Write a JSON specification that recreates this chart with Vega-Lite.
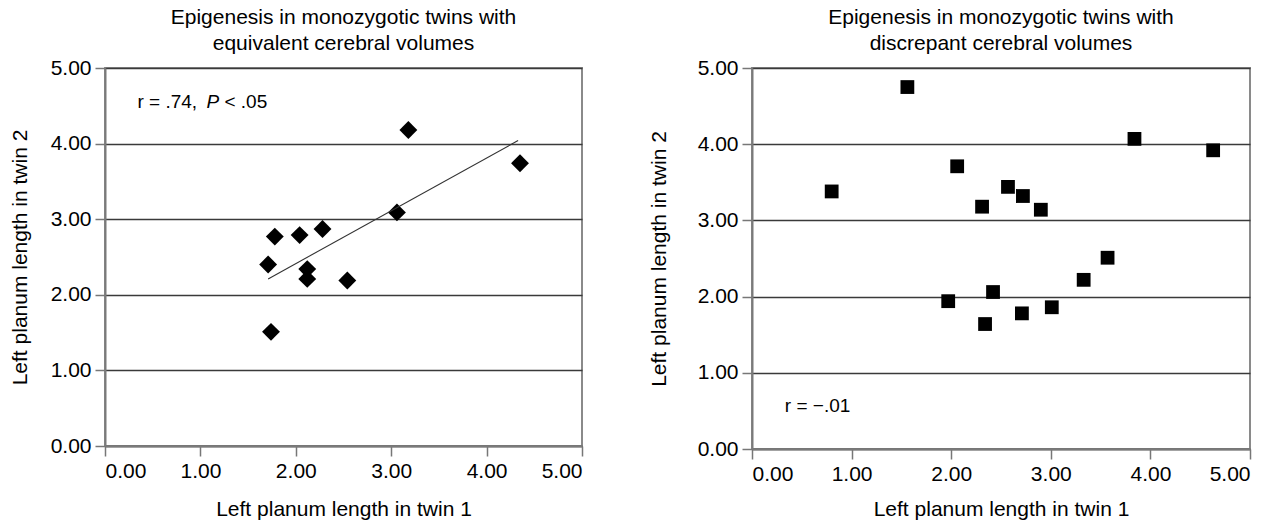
{
  "$schema": "https://vega.github.io/schema/vega-lite/v6.json",
  "background": "white",
  "padding": {"left": 8, "top": 6, "right": 0, "bottom": 0},
  "config": {
    "font": "Liberation Sans",
    "view": {"stroke": "#8a8a8a", "strokeWidth": 2},
    "axis": {
      "labelFont": "Liberation Sans",
      "labelFontSize": 21,
      "labelColor": "black",
      "titleFont": "Liberation Sans",
      "titleFontSize": 21,
      "titleFontWeight": "normal",
      "titleColor": "black",
      "tickColor": "#777777",
      "tickSize": 10,
      "tickWidth": 1.5,
      "domainColor": "#7a7a7a",
      "domainWidth": 2,
      "gridColor": "#3a3a3a",
      "gridWidth": 1.6,
      "gridOpacity": 1,
      "labelPadding": 4
    },
    "title": {
      "font": "Liberation Sans",
      "fontSize": 21,
      "fontWeight": "normal",
      "color": "black",
      "lineHeight": 26,
      "anchor": "middle"
    },
    "concat": {"spacing": 63}
  },
  "datasets": {
    "equivalent": [
      {"twin1": 3.18, "twin2": 4.18},
      {"twin1": 4.35, "twin2": 3.74},
      {"twin1": 3.06, "twin2": 3.09},
      {"twin1": 1.78, "twin2": 2.77},
      {"twin1": 2.04, "twin2": 2.79},
      {"twin1": 2.28, "twin2": 2.87},
      {"twin1": 1.71, "twin2": 2.40},
      {"twin1": 2.12, "twin2": 2.34},
      {"twin1": 2.12, "twin2": 2.21},
      {"twin1": 2.54, "twin2": 2.19},
      {"twin1": 1.74, "twin2": 1.51}
    ],
    "fitline": [
      {"twin1": 1.71, "twin2": 2.21},
      {"twin1": 4.33, "twin2": 4.04}
    ],
    "discrepant": [
      {"twin1": 1.56, "twin2": 4.75},
      {"twin1": 3.84, "twin2": 4.07},
      {"twin1": 4.63, "twin2": 3.92},
      {"twin1": 2.06, "twin2": 3.71},
      {"twin1": 0.80, "twin2": 3.38},
      {"twin1": 2.57, "twin2": 3.44},
      {"twin1": 2.72, "twin2": 3.32},
      {"twin1": 2.31, "twin2": 3.18},
      {"twin1": 2.90, "twin2": 3.14},
      {"twin1": 3.57, "twin2": 2.51},
      {"twin1": 3.33, "twin2": 2.22},
      {"twin1": 2.42, "twin2": 2.06},
      {"twin1": 1.97, "twin2": 1.94},
      {"twin1": 3.01, "twin2": 1.86},
      {"twin1": 2.71, "twin2": 1.78},
      {"twin1": 2.34, "twin2": 1.64}
    ]
  },
  "hconcat": [
    {
      "width": 477,
      "height": 378,
      "title": {"text": ["Epigenesis in monozygotic twins with", "equivalent cerebral volumes"], "offset": 3},
      "layer": [
        {
          "data": {"name": "equivalent"},
          "mark": {"type": "point", "shape": "diamond", "filled": true, "size": 320, "color": "black", "opacity": 1, "strokeWidth": 0},
          "encoding": {
            "x": {"field": "twin1", "type": "quantitative", "scale": {"domain": [0, 5], "nice": false, "zero": true},
              "axis": {"values": [0, 1, 2, 3, 4, 5], "format": ".2f", "grid": false, "title": "Left planum length in twin 1", "titlePadding": 17}},
            "y": {"field": "twin2", "type": "quantitative", "scale": {"domain": [0, 5], "nice": false, "zero": true},
              "axis": {"values": [0, 1, 2, 3, 4, 5], "format": ".2f", "grid": true, "title": "Left planum length in twin 2", "titlePadding": 20}}
          }
        },
        {
          "data": {"name": "fitline"},
          "mark": {"type": "line", "color": "#333333", "strokeWidth": 1.1},
          "encoding": {
            "x": {"field": "twin1", "type": "quantitative"},
            "y": {"field": "twin2", "type": "quantitative"}
          }
        },
        {
          "data": {"values": [{}]},
          "mark": {"type": "text", "align": "left", "baseline": "middle", "fontSize": 19, "color": "black"},
          "encoding": {
            "x": {"datum": 0.34, "type": "quantitative"},
            "y": {"datum": 4.55, "type": "quantitative"},
            "text": {"value": "r = .74,"}
          }
        },
        {
          "data": {"values": [{}]},
          "mark": {"type": "text", "align": "left", "baseline": "middle", "fontSize": 19, "fontStyle": "italic", "color": "black", "dx": 69},
          "encoding": {
            "x": {"datum": 0.34, "type": "quantitative"},
            "y": {"datum": 4.55, "type": "quantitative"},
            "text": {"value": "P"}
          }
        },
        {
          "data": {"values": [{}]},
          "mark": {"type": "text", "align": "left", "baseline": "middle", "fontSize": 19, "color": "black", "dx": 87},
          "encoding": {
            "x": {"datum": 0.34, "type": "quantitative"},
            "y": {"datum": 4.55, "type": "quantitative"},
            "text": {"value": "< .05"}
          }
        }
      ]
    },
    {
      "width": 498,
      "height": 381,
      "title": {"text": ["Epigenesis in monozygotic twins with", "discrepant cerebral volumes"], "offset": 3},
      "layer": [
        {
          "data": {"name": "discrepant"},
          "mark": {"type": "point", "shape": "square", "filled": true, "size": 190, "color": "black", "opacity": 1, "strokeWidth": 0},
          "encoding": {
            "x": {"field": "twin1", "type": "quantitative", "scale": {"domain": [0, 5], "nice": false, "zero": true},
              "axis": {"values": [0, 1, 2, 3, 4, 5], "format": ".2f", "grid": false, "title": "Left planum length in twin 1", "titlePadding": 14}},
            "y": {"field": "twin2", "type": "quantitative", "scale": {"domain": [0, 5], "nice": false, "zero": true},
              "axis": {"values": [0, 1, 2, 3, 4, 5], "format": ".2f", "grid": true, "title": "Left planum length in twin 2", "titlePadding": 28}}
          }
        },
        {
          "data": {"values": [{}]},
          "mark": {"type": "text", "align": "left", "baseline": "middle", "fontSize": 19, "color": "black"},
          "encoding": {
            "x": {"datum": 0.33, "type": "quantitative"},
            "y": {"datum": 0.56, "type": "quantitative"},
            "text": {"value": "r = −.01"}
          }
        }
      ]
    }
  ]
}
